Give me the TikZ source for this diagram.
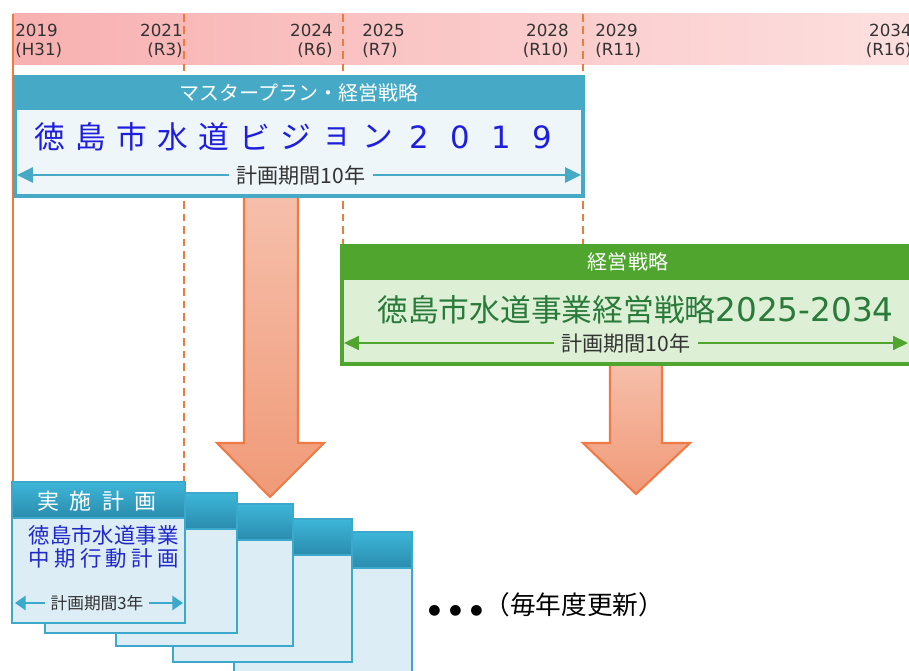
\documentclass[tikz,border=0pt]{standalone}
\usepackage{fontspec}
\setmainfont{Noto Sans CJK JP}
\newfontfamily\yrfont{DejaVu Sans}
\usepackage{tikz}
\usetikzlibrary{arrows.meta}

\definecolor{bandL}{HTML}{F8B0B0}
\definecolor{bandR}{HTML}{FDDFDF}
\definecolor{orline}{HTML}{EF7B3B}
\definecolor{bluehdr}{HTML}{46A9C6}
\definecolor{blueinner}{HTML}{EEF6F9}
\definecolor{titleblue}{HTML}{1E1EDC}
\definecolor{greenhdr}{HTML}{4FA52E}
\definecolor{greeninner}{HTML}{DDF0D5}
\definecolor{titlegreen}{HTML}{2A7A3B}
\definecolor{arrTop}{HTML}{F6C0AC}
\definecolor{arrBot}{HTML}{F09A78}
\definecolor{arrLine}{HTML}{EF7A45}
\definecolor{cardTop}{HTML}{3DB6D8}
\definecolor{cardBot}{HTML}{2A8CAE}
\definecolor{cardFill}{HTML}{DCEDF5}
\definecolor{cardLine}{HTML}{3BA8CC}
\definecolor{cardText}{HTML}{2028C8}

\tikzset{
  yr/.style={font=\yrfont\fontsize{9.5}{10.8}\selectfont, text=black!80, inner sep=0pt},
  hdrtext/.style={font=\fontsize{11.4}{13}\selectfont, text=white, inner sep=0pt},
  spantext/.style={font=\fontsize{12}{14}\selectfont, text=black!80, inner sep=4pt},
  vtitle/.style={font=\fontsize{17.5}{20}\selectfont, text=titleblue, inner sep=0pt},
  gtitle/.style={font=\fontsize{17.5}{20}\selectfont, text=titlegreen, inner sep=0pt},
  cardtxt/.style={font=\fontsize{12.2}{14}\selectfont, text=cardText, inner sep=0pt},
  bluearr/.style={draw=bluehdr, line width=1.5pt, -{Triangle[length=9pt,width=8.5pt]}},
  greenarr/.style={draw=greenhdr, line width=0.9pt, -{Triangle[length=8.5pt,width=8pt]}},
  cardarr/.style={draw=cardLine, line width=1.3pt, -{Triangle[length=6pt,width=8pt]}},
  yearline/.style={draw=orline, line width=1.3pt, dash pattern=on 4.3pt off 2.8pt},
  bigarrow/.style={draw=arrLine, line width=1.2pt, top color=arrTop, bottom color=arrBot},
  cardbody/.style={draw=cardLine, line width=1.1pt, fill=cardFill},
  cardhead/.style={draw=cardLine, line width=1.1pt, top color=cardTop, bottom color=cardBot}
}

\begin{document}
\begin{tikzpicture}[x=0.02cm,y=-0.02cm]
  \useasboundingbox (0,0) rectangle (909,671);
  \fill[white] (0,0) rectangle (909,671);

  \fill[left color=bandL, right color=bandR] (13,14) rectangle (909,65);
  \draw[orline, line width=1.6pt] (13,14) -- (13,484);
  \draw[yearline] (184,14) -- (184,484);
  \draw[yearline] (343,14) -- (343,246);
  \draw[yearline] (583,14) -- (583,246);

  \node[yr, anchor=west, align=left] (y2019) at (15,41) {2019\\(H31)};
  \node[yr, anchor=east, align=right] (y2021) at (183,41) {2021\\(R3)};
  \node[yr, anchor=east, align=right] (y2024) at (333,41) {2024\\(R6)};
  \node[yr, anchor=west, align=left] (y2025) at (362,41) {2025\\(R7)};
  \node[yr, anchor=east, align=right] (y2028) at (569,41) {2028\\(R10)};
  \node[yr, anchor=west, align=left] (y2029) at (595,41) {2029\\(R11)};
  \node[yr, anchor=east, align=right] (y2034) at (912,41) {2034\\(R16)};

  \draw[bigarrow] (244,190) -- (244,443) -- (217,443) -- (270,497) -- (324,443) -- (298,443) -- (298,190) -- cycle;
  \draw[bigarrow] (610,358) -- (610,443) -- (583,443) -- (636,494) -- (690,443) -- (662,443) -- (662,358) -- cycle;

  \fill[bluehdr] (13,75) rectangle (585,198);
  \fill[blueinner] (17,110) rectangle (581,194);
  \node[hdrtext] (mphdr) at (299,93) {マスタープラン・経営戦略};
  \foreach \c [count=\i from 0] in {徳,島,市,水,道,ビ,ジ,ョ,ン,{\yrfont 2},{\yrfont 0},{\yrfont 1},{\yrfont 9}}
    \node[vtitle] (vt\i) at (50+41*\i,137) {\c};
  \node[spantext, fill=blueinner] (bspan) at (301,175) {計画期間10年};
  \coordinate (bL) at (17,175);
  \coordinate (bR) at (581,175);
  \draw[bluearr] (bspan.west) -- (bL);
  \draw[bluearr] (bspan.east) -- (bR);

  \fill[greenhdr] (340,244) rectangle (915,366);
  \fill[greeninner] (344,280) rectangle (915,362);
  \node[hdrtext] (ghdr) at (628,262) {経営戦略};
  \node[gtitle, anchor=west] (gtitle) at (377,310) {徳島市水道事業経営戦略{\yrfont\fontsize{18.6}{20}\selectfont 2025-2034}};
  \node[spantext, fill=greeninner] (gspan) at (626,343) {計画期間10年};
  \coordinate (gL) at (344,343);
  \coordinate (gR) at (908,343);
  \draw[greenarr] (gspan.west) -- (gL);
  \draw[greenarr] (gspan.east) -- (gR);

  \foreach \l/\t/\r/\b in {234/532/412/700, 173/519/352/662, 116/504/293/646, 45/493/237/633, 12/482/185/623} {
    \draw[cardbody] (\l,\t) rectangle (\r,\b);
    \draw[cardhead] (\l,\t) rectangle (\r,\t+36);
  }
  \node[font=\fontsize{12.5}{14}\selectfont, text=white, inner sep=0pt] (jhdr) at (97,501) {実\hspace{6pt}施\hspace{6pt}計\hspace{6pt}画};
  \node[cardtxt, anchor=east] (c1a) at (179,535) {徳島市水道事業};
  \node[cardtxt, anchor=east] (c1b) at (179,558) {中\hspace{2.4pt}期\hspace{2.4pt}行\hspace{2.4pt}動\hspace{2.4pt}計\hspace{2.4pt}画};
  \node[font=\fontsize{9.5}{11}\selectfont, text=black!80, fill=cardFill, inner sep=3pt] (c1span) at (97,603) {計画期間3年};
  \coordinate (cL) at (15,603);
  \coordinate (cR) at (183,603);
  \draw[cardarr] (c1span.west) -- (cL);
  \draw[cardarr] (c1span.east) -- (cR);

  \node[anchor=west, inner sep=0pt, font=\fontsize{14.6}{16}\selectfont] (more) at (428,605)
    {{\yrfont\fontsize{8}{9}\selectfont ●\hspace{5pt}●\hspace{5pt}●}\hspace{1pt}（毎年度更新）};
\end{tikzpicture}
\end{document}
